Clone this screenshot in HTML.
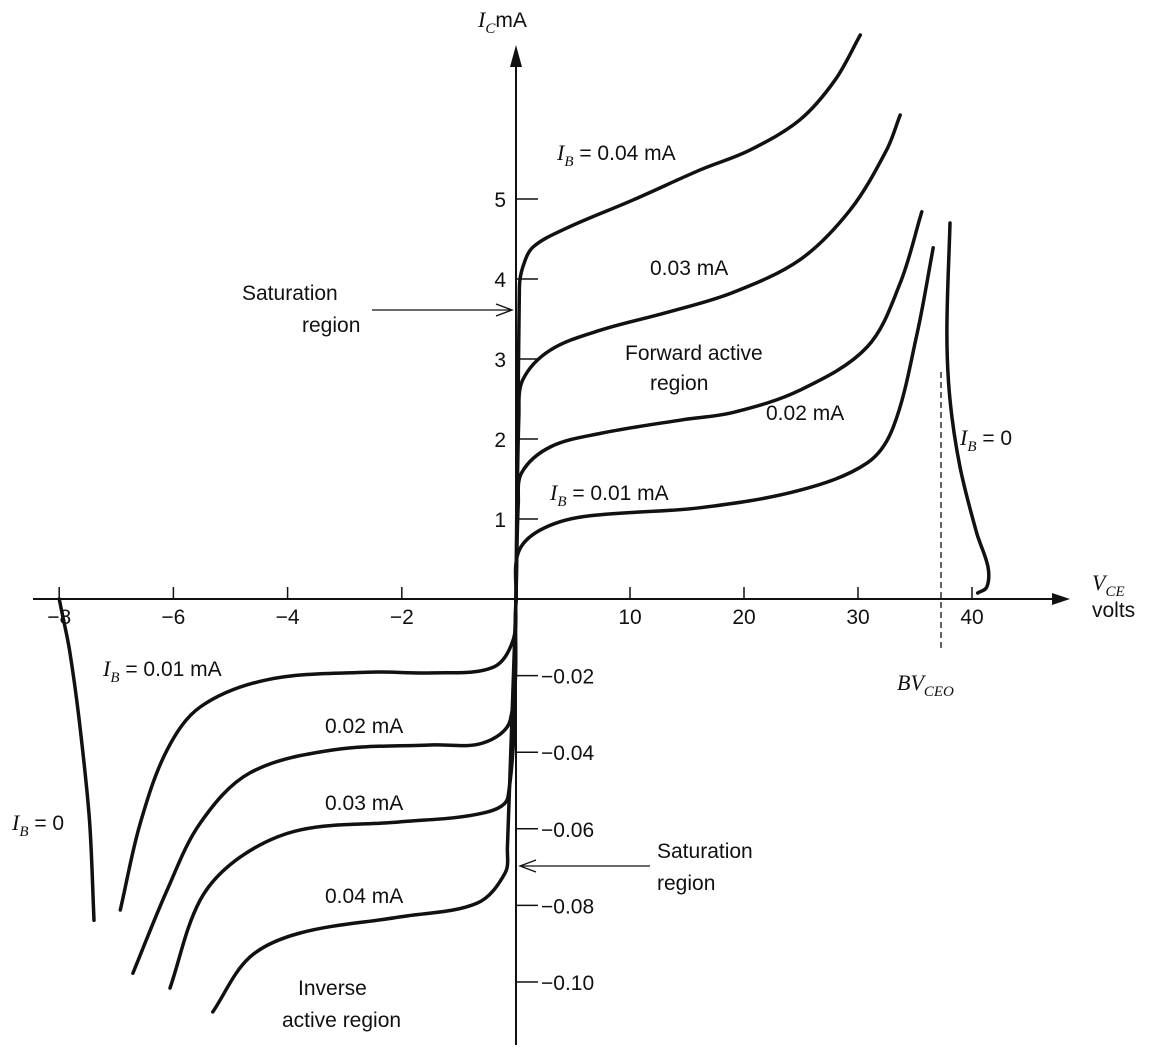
<!DOCTYPE html>
<html><head><meta charset="utf-8"><style>
body{margin:0;background:#fff}
svg{display:block}
text{font-family:"Liberation Sans",sans-serif;font-size:21px;fill:#111}
.it{font-family:"Liberation Serif",serif;font-style:italic}
</style></head><body>
<svg id="chart" width="1165" height="1055" viewBox="0 0 1165 1055">
<g id="axes" stroke="#111" stroke-width="2" fill="none">
<line x1="33" y1="599" x2="1060" y2="599"/>
<line x1="516" y1="1045" x2="516" y2="55"/>
<polygon points="1070,599 1052,593 1052,605" fill="#111" stroke="none"/>
<polygon points="516,45 510,67 522,67" fill="#111" stroke="none"/>
</g>
<g id="ticks"></g>
<g id="curves"></g>
<g id="annot">
<text x="478" y="27"><tspan class="it" font-size="22">I</tspan><tspan class="it" font-size="15" dy="6">C</tspan><tspan dy="-6">mA</tspan></text>
<text x="1092" y="590"><tspan class="it" font-size="22">V</tspan><tspan class="it" font-size="15" dy="6">CE</tspan></text>
<text x="1092" y="617">volts</text>
<text x="557" y="160"><tspan class="it" font-size="22">I</tspan><tspan class="it" font-size="15" dy="6">B</tspan><tspan dy="-6"> = 0.04 mA</tspan></text>
<text x="650" y="275">0.03 mA</text>
<text x="625" y="360">Forward active</text>
<text x="650" y="390">region</text>
<text x="766" y="420">0.02 mA</text>
<text x="550" y="500"><tspan class="it" font-size="22">I</tspan><tspan class="it" font-size="15" dy="6">B</tspan><tspan dy="-6"> = 0.01 mA</tspan></text>
<text x="960" y="445"><tspan class="it" font-size="22">I</tspan><tspan class="it" font-size="15" dy="6">B</tspan><tspan dy="-6"> = 0</tspan></text>
<text x="242" y="300">Saturation</text>
<text x="302" y="332">region</text>
<line x1="372" y1="310" x2="510" y2="310" stroke="#111" stroke-width="1.3"/>
<polyline points="496,304 512,310 496,316" fill="none" stroke="#111" stroke-width="1.3"/>
<text x="657" y="858">Saturation</text>
<text x="657" y="890">region</text>
<line x1="650" y1="866" x2="522" y2="866" stroke="#111" stroke-width="1.3"/>
<polyline points="536,860 520,866 536,872" fill="none" stroke="#111" stroke-width="1.3"/>
<line x1="941" y1="372" x2="941" y2="648" stroke="#111" stroke-width="1.3" stroke-dasharray="6,4"/>
<text x="897" y="690"><tspan class="it" font-size="22">BV</tspan><tspan class="it" font-size="15" dy="6">CEO</tspan></text>
<text x="103" y="676"><tspan class="it" font-size="22">I</tspan><tspan class="it" font-size="15" dy="6">B</tspan><tspan dy="-6"> = 0.01 mA</tspan></text>
<text x="325" y="733">0.02 mA</text>
<text x="325" y="810">0.03 mA</text>
<text x="325" y="903">0.04 mA</text>
<text x="12" y="830"><tspan class="it" font-size="22">I</tspan><tspan class="it" font-size="15" dy="6">B</tspan><tspan dy="-6"> = 0</tspan></text>
<text x="298" y="995">Inverse</text>
<text x="282" y="1027">active region</text>
</g>
</svg>
<script>
const xTicksPos=[10,20,30,40];
const xTicksNeg=[-2,-4,-6,-8];
const yTicksPos=[1,2,3,4,5];
const yTicksNeg=[-0.02,-0.04,-0.06,-0.08,-0.10];
const fwdV004=[0,0.3,0.6,1.5,4.5,10.3,16.1,20.5,24.9,28,30.2];
const fwdI004=[0,3.9,4.15,4.4,4.64,4.99,5.36,5.61,5.99,6.49,7.05];
const fwdV003=[0,0.25,0.6,3.0,7.4,13.2,19.0,24.9,29.3,32.5,33.7];
const fwdI003=[0,2.3,2.74,3.11,3.36,3.58,3.83,4.24,4.86,5.61,6.05];
const fwdV002=[0,0.2,0.5,3.0,7.4,14.6,19.0,24.9,30.8,33.7,35.6];
const fwdI002=[0,1.2,1.58,1.9,2.07,2.24,2.33,2.61,3.15,3.95,4.84];
const fwdV001=[0,0.2,2.1,5.9,16.1,24.9,30.8,33.1,35.2,36.6];
const fwdI001=[0,0.58,0.86,1.03,1.14,1.36,1.7,2.15,3.33,4.39];
const fwdV0=[38.07,37.8,38.07,38.95,40.4,41.4,41.3,40.5];
const fwdI0=[4.7,3.33,2.49,1.65,0.83,0.4,0.15,0.075];
const invV001=[0,-0.05,-0.40,-1.45,-2.61,-4.36,-5.53,-6.11,-6.58,-6.93];
const invI001=[0,-0.0107,-0.0178,-0.0193,-0.0191,-0.0211,-0.0282,-0.0394,-0.0585,-0.0812];
const invV002=[0,-0.1,-0.58,-1.45,-3.2,-4.66,-5.53,-6.11,-6.71];
const invI002=[0,-0.0316,-0.0376,-0.0381,-0.0394,-0.0454,-0.0585,-0.076,-0.0977];
const invV003=[0,-0.14,-0.58,-2.03,-3.78,-4.83,-5.53,-6.06];
const invI003=[0,-0.0517,-0.0559,-0.0582,-0.0603,-0.0674,-0.0786,-0.1016];
const invV004=[0,-0.15,-0.19,-0.68,-2.03,-3.78,-4.66,-5.31];
const invI004=[0,-0.065,-0.0715,-0.0794,-0.083,-0.0872,-0.0935,-0.1078];
const invV0=[-8.0,-7.96,-7.82,-7.65,-7.47,-7.39];
const invI0=[0,-0.0029,-0.0133,-0.0316,-0.0578,-0.0839];

const X0=516,Y0=599;
function sx(v){return v>=0?X0+v*11.4:X0+v*57.1;}
function sy(i){return i>=0?Y0-i*80:Y0-i/0.02*76.6;}
const NS='http://www.w3.org/2000/svg';
const ticks=document.getElementById('ticks');
function mk(tag,attrs,parent){const e=document.createElementNS(NS,tag);for(const k in attrs)e.setAttribute(k,attrs[k]);parent.appendChild(e);return e;}
xTicksPos.concat(xTicksNeg).forEach(v=>{
  const x=sx(v);
  const t=mk('line',{x1:x,y1:Y0-12,x2:x,y2:Y0,stroke:'#111','stroke-width':1.5},ticks);
  
  
  const l=mk('text',{x:x,y:Y0+25,'text-anchor':'middle'},ticks);
  l.textContent=v<0?'\u2212'+(-v):String(v);
  
  
});
yTicksPos.forEach(v=>{
  const y=sy(v);
  const t=mk('line',{x1:X0,y1:y,x2:X0+22,y2:y,stroke:'#111','stroke-width':1.5},ticks);
  
  
  const l=mk('text',{x:X0-10,y:y+8,'text-anchor':'end'},ticks);
  l.textContent=String(v);
  
  
});
yTicksNeg.forEach(v=>{
  const y=sy(v);
  const t=mk('line',{x1:X0,y1:y,x2:X0+22,y2:y,stroke:'#111','stroke-width':1.5},ticks);
  
  
  const l=mk('text',{x:X0+25,y:y+8,'text-anchor':'start'},ticks);
  l.textContent='\u2212'+(-v).toFixed(2);
  
  
});
function tangent(p,k){
  const a=p[Math.max(0,k-1)],c=p[Math.min(p.length-1,k+1)];
  const dx=c[0]-a[0],dy=c[1]-a[1],n=Math.hypot(dx,dy)||1;
  return [dx/n,dy/n];
}
function path(vs,is){
  const p=vs.map((v,k)=>[sx(v),sy(is[k])]);
  let d='M'+p[0][0].toFixed(1)+','+p[0][1].toFixed(1);
  for(let k=0;k<p.length-1;k++){
    const b=p[k],c=p[k+1];
    const L=Math.hypot(c[0]-b[0],c[1]-b[1])/3;
    const t1=tangent(p,k),t2=tangent(p,k+1);
    const c1=[b[0]+t1[0]*L,b[1]+t1[1]*L],c2=[c[0]-t2[0]*L,c[1]-t2[1]*L];
    d+=' C'+c1[0].toFixed(1)+','+c1[1].toFixed(1)+' '+c2[0].toFixed(1)+','+c2[1].toFixed(1)+' '+c[0].toFixed(1)+','+c[1].toFixed(1);
  }
  return d;
}
const curves=document.getElementById('curves');
const all=[[fwdV004,fwdI004,'forward-ib-004'],[fwdV003,fwdI003,'forward-ib-003'],[fwdV002,fwdI002,'forward-ib-002'],[fwdV001,fwdI001,'forward-ib-001'],[fwdV0,fwdI0,'forward-ib-0'],
[invV001,invI001,'inverse-ib-001'],[invV002,invI002,'inverse-ib-002'],[invV003,invI003,'inverse-ib-003'],[invV004,invI004,'inverse-ib-004'],[invV0,invI0,'inverse-ib-0']];
all.forEach(s=>{
  const e=mk('path',{d:path(s[0],s[1]),fill:'none',stroke:'#111','stroke-width':3.5,'stroke-linecap':'round','stroke-linejoin':'round'},curves);
  
  
});
</script>
</body></html>
